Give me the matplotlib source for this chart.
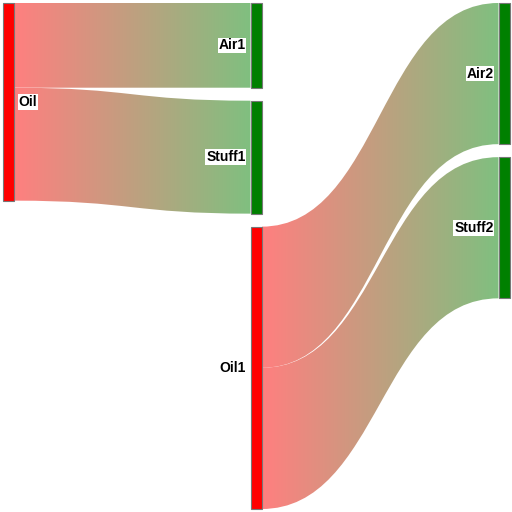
import numpy as np
import matplotlib.pyplot as plt
from matplotlib.path import Path
from matplotlib.patches import PathPatch, Rectangle
from matplotlib.colors import to_rgb

# Dati del diagramma di Sankey
nodi = ["Oil", "Air1", "Stuff1", "Oil1", "Air2", "Stuff2"]
colonna_nodo = [0, 1, 1, 1, 2, 2]
colore_nodo = ["#ff0000", "#008000", "#008000", "#ff0000", "#008000", "#008000"]
sorgenti = ["Oil", "Oil", "Oil1", "Oil1"]
destinazioni = ["Air1", "Stuff1", "Air2", "Stuff2"]
valori = [30, 40, 50, 50]

# Geometria (pixel, figura 512x512)
W, H = 512, 512
larghezza_nodo = 11
margine = 3
gap = 13
x_colonne = [2.5, 250.5, 498.5]


def mescola_bianco(c, a=0.5):
    r = np.array(to_rgb(c))
    return r * a + (1 - a)


def main():
    # valore di ogni nodo = max(entrate, uscite)
    entrate = {n: 0 for n in nodi}
    uscite = {n: 0 for n in nodi}
    for s, d, v in zip(sorgenti, destinazioni, valori):
        uscite[s] += v
        entrate[d] += v
    val_nodo = {n: max(entrate[n], uscite[n]) for n in nodi}

    # scala: la colonna piu' piena deve riempire l'altezza
    scale = []
    for c in set(colonna_nodo):
        nn = [n for n, cc in zip(nodi, colonna_nodo) if cc == c]
        tot = sum(val_nodo[n] for n in nn)
        scale.append((H - 2 * margine - gap * (len(nn) - 1)) / tot)
    k = min(scale)

    # posizioni verticali (allineate in alto)
    y0 = {}
    y1 = {}
    x0 = {}
    for c in set(colonna_nodo):
        y = margine
        for n, cc in zip(nodi, colonna_nodo):
            if cc != c:
                continue
            y0[n] = y
            y1[n] = y + val_nodo[n] * k
            x0[n] = x_colonne[c]
            y = y1[n] + gap

    fig = plt.figure(figsize=(5.12, 5.12), dpi=100)
    ax = fig.add_axes([0, 0, 1, 1])
    ax.set_xlim(0, W)
    ax.set_ylim(H, 0)
    ax.axis("off")

    # collegamenti con gradiente
    off_s = {n: y0[n] for n in nodi}
    off_t = {n: y0[n] for n in nodi}
    for s, d, v in zip(sorgenti, destinazioni, valori):
        h = v * k
        xs = x0[s] + larghezza_nodo
        xt = x0[d]
        ys0, ys1 = off_s[s], off_s[s] + h
        yt0, yt1 = off_t[d], off_t[d] + h
        off_s[s] += h
        off_t[d] += h
        xm = (xs + xt) / 2
        verts = [(xs, ys0), (xm, ys0), (xm, yt0), (xt, yt0),
                 (xt, yt1), (xm, yt1), (xm, ys1), (xs, ys1), (xs, ys0)]
        codes = [Path.MOVETO, Path.CURVE4, Path.CURVE4, Path.CURVE4,
                 Path.LINETO, Path.CURVE4, Path.CURVE4, Path.CURVE4, Path.CLOSEPOLY]
        patch = PathPatch(Path(verts, codes), facecolor="none", edgecolor="none")
        ax.add_patch(patch)
        c1 = mescola_bianco(colore_nodo[nodi.index(s)])
        c2 = mescola_bianco(colore_nodo[nodi.index(d)])
        t = np.linspace(0, 1, 256)[:, None]
        grad = (c1[None, :] * (1 - t) + c2[None, :] * t)[None, :, :]
        ymin = min(ys0, yt0)
        ymax = max(ys1, yt1)
        im = ax.imshow(grad, extent=(xs, xt, ymax, ymin), aspect="auto",
                       interpolation="bilinear", zorder=1)
        im.set_clip_path(patch)

    ax.set_xlim(0, W)
    ax.set_ylim(H, 0)

    # nodi
    for n, col, c in zip(nodi, colonna_nodo, colore_nodo):
        ax.add_patch(Rectangle((x0[n], y0[n]), larghezza_nodo, y1[n] - y0[n],
                               facecolor=c, edgecolor="#777777", linewidth=0.8, zorder=3))
        ym = (y0[n] + y1[n]) / 2
        if col == 0:
            x, ha = x0[n] + larghezza_nodo + 5, "left"
        else:
            x, ha = x0[n] - 5, "right"
        ax.text(x, ym, n, ha=ha, va="center", fontsize=10, fontweight="bold",
                family=["Liberation Sans", "DejaVu Sans"], zorder=4,
                bbox=dict(facecolor="white", edgecolor="none", pad=0.6))

    fig.savefig("out.png", dpi=100)


if __name__ == "__main__":
    main()
